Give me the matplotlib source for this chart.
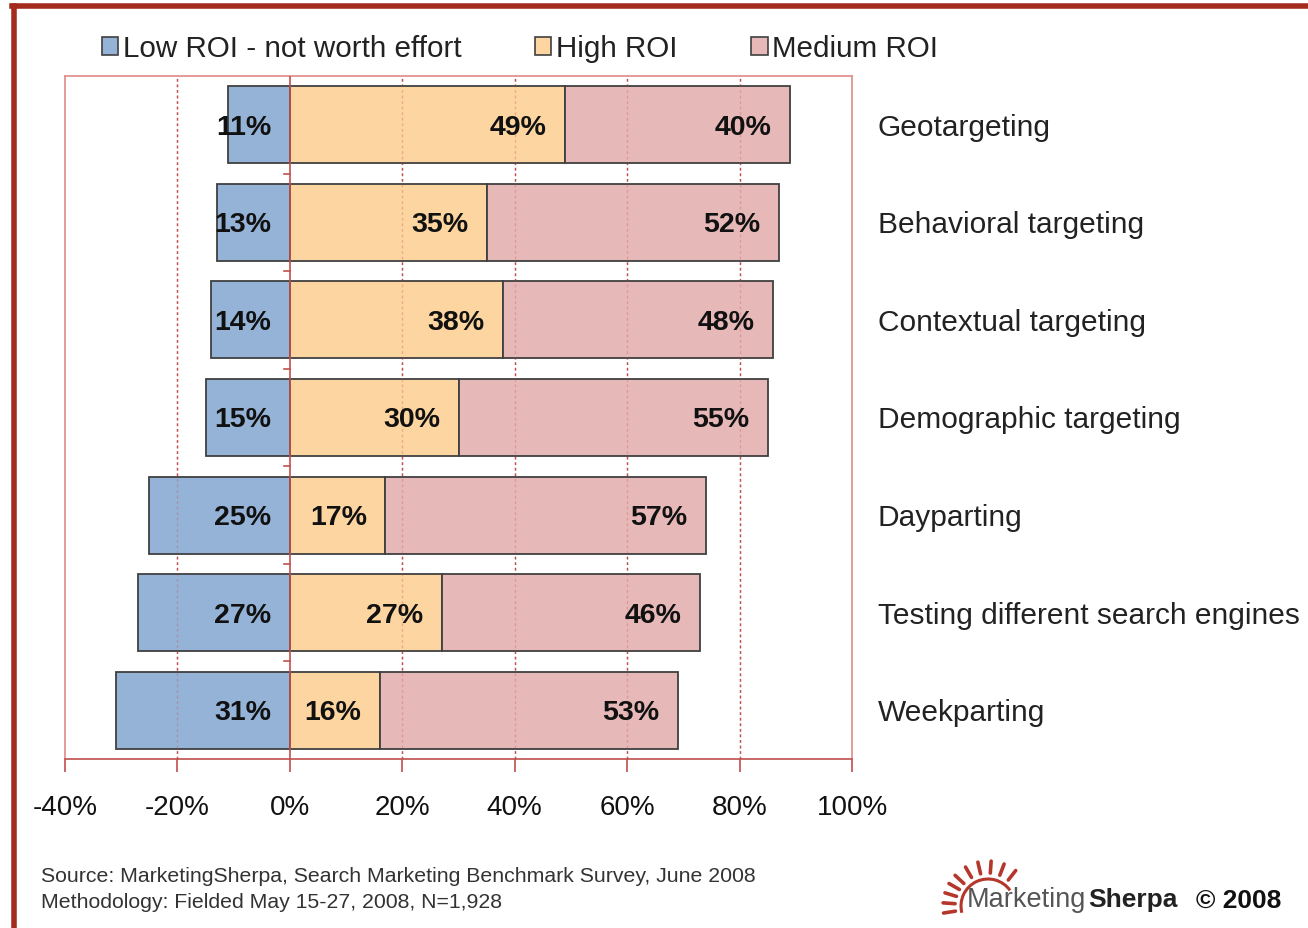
import numpy as np
import matplotlib
matplotlib.use("Agg")
import matplotlib.pyplot as plt
from matplotlib.patches import Patch, Arc
from matplotlib.lines import Line2D

plt.rcParams['font.family'] = ['Liberation Sans', 'DejaVu Sans']

# Data
categories = ['Geotargeting', 'Behavioral targeting', 'Contextual targeting',
              'Demographic targeting', 'Dayparting', 'Testing different search engines',
              'Weekparting']
low_roi = [11, 13, 14, 15, 25, 27, 31]
high_roi = [49, 35, 38, 30, 17, 27, 16]
medium_roi = [40, 52, 48, 55, 57, 46, 53]
xticks = [-40, -20, 0, 20, 40, 60, 80, 100]

c_low = '#95B3D7'
c_high = '#FCD5A0'
c_med = '#E6B9B8'
red = '#C0504D'

W, H = 1308, 929
fig = plt.figure(figsize=(W / 100, H / 100), dpi=100)
ax = fig.add_axes([0.0497, 0.1819, 0.6017, 0.7352])


def px(x, y):
    # pixel position (from top-left) -> figure fraction
    return x / W, 1 - y / H


y = np.arange(len(categories))
low = -np.array(low_roi)
high = np.array(high_roi)
med = np.array(medium_roi)
h = 0.79
kw = dict(height=h, edgecolor='#404040', linewidth=1.3, zorder=2)
ax.barh(y, low, color=c_low, **kw)
ax.barh(y, high, color=c_high, **kw)
ax.barh(y, med, left=high, color=c_med, **kw)

# value labels, right aligned near the end of each segment
lab = dict(ha='right', va='center', fontsize=20.5, fontweight='bold', color='#111111', zorder=5)
for i in range(len(categories)):
    ax.text(-3.3, y[i] + 0.02, f'{low_roi[i]}%', **lab)
    ax.text(high[i] - 3.3, y[i] + 0.02, f'{high_roi[i]}%', **lab)
    ax.text(high[i] + med[i] - 3.3, y[i] + 0.02, f'{medium_roi[i]}%', **lab)
    ax.text(104.6, y[i] + 0.02, categories[i], ha='left', va='center', fontsize=21.5,
            color='#222222', clip_on=False)

# gridlines
for gx in [-20, 20, 40, 60, 80]:
    ax.axvline(gx, color=red, linestyle=(0, (2, 2)), linewidth=1, zorder=1)
    ax.axvline(gx, color=red, linestyle=(0, (2, 2)), linewidth=1, alpha=0.3, zorder=3)
ax.axvline(0, color=red, linewidth=1.2, zorder=3)
for b in np.arange(len(categories) - 1) + 0.5:
    ax.plot([-1.1, 0], [b, b], color=red, linewidth=1.2, zorder=3)

ax.set_xlim(-40, 100)
ax.set_ylim(len(categories) - 0.5, -0.5)
ax.set_xticks(xticks)
ax.set_xticklabels([f'{t}%' for t in xticks], fontsize=20, color='#111111')
ax.set_yticks([])
ax.tick_params(axis='x', length=9, width=1.2, color=red, pad=16, direction='out')
for s in ax.spines.values():
    s.set_color('#E08A88')
    s.set_linewidth(1.2)
ax.spines['bottom'].set_color(red)

# legend
handles = [Patch(facecolor=c, edgecolor='#404040', linewidth=1.2) for c in (c_low, c_high, c_med)]
fig.legend(handles, ['Low ROI - not worth effort', 'High ROI', 'Medium ROI'],
           loc='center left', bbox_to_anchor=(0.0575, 0.947), ncol=3, frameon=False,
           fontsize=21.3, handlelength=0.55, handleheight=0.55, handletextpad=0.15,
           columnspacing=2.5, labelcolor='#222222')

# source notes
fig.text(0.031, 0.057, 'Source: MarketingSherpa, Search Marketing Benchmark Survey, June 2008',
         fontsize=15.3, color='#333333', va='center')
fig.text(0.031, 0.029, 'Methodology: Fielded May 15-27, 2008, N=1,928',
         fontsize=15.3, color='#333333', va='center')

# logo: sun rays and arc
sun_red = '#B5372B'
cx, cy = 988, 907
for ang in [52, 69, 86, 103, 120, 137, 150, 163, 176, 189]:
    a = np.deg2rad(ang)
    x0, y0 = px(cx + 33 * np.cos(a), cy - 33 * np.sin(a))
    x1, y1 = px(cx + 45 * np.cos(a), cy - 45 * np.sin(a))
    fig.add_artist(Line2D([x0, x1], [y0, y1], color=sun_red, linewidth=2.6,
                          solid_capstyle='round', transform=fig.transFigure))
acx, acy = px(cx, cy)
fig.add_artist(Arc((acx, acy), 2 * 27 / W, 2 * 27 / H, theta1=45, theta2=200,
                   color=sun_red, linewidth=2.2, transform=fig.transFigure))
fig.text(*px(967, 900), 'Marketing', fontsize=19.5, color='#555555', va='center')
fig.text(*px(1088, 900), 'Sherpa', fontsize=19, fontweight='bold', color='#222222', va='center')
fig.text(*px(1196, 901), '\u00a9 2008', fontsize=19, fontweight='bold', color='#111111', va='center')

# outer frame
frame = '#A52A1E'
fig.add_artist(Line2D([0.0107, 0.0107], [0.0, 0.993], color=frame, linewidth=4,
                      transform=fig.transFigure))
fig.add_artist(Line2D([0.0092, 1.0], [0.993, 0.993], color=frame, linewidth=4,
                      transform=fig.transFigure))

fig.savefig('out.png', dpi=100)
